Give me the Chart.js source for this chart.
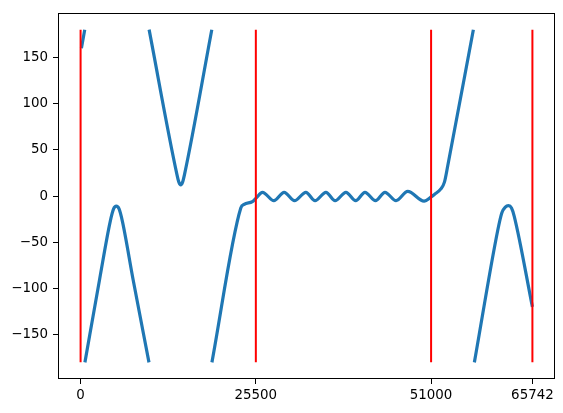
<!DOCTYPE html>
<html>
<head>
<meta charset="utf-8">
<script src="https://cdn.jsdelivr.net/npm/chart.js@4.4.1/dist/chart.umd.min.js"></script>
<style>
  body { margin: 0; background: #fff; }
  canvas { display: block; }
</style>
</head>
<body>
<canvas id="phaseChart" width="563" height="413"></canvas>
<script>
// valores (null = salto de fase ±180)
const phaseX = [
  120, 600, 615,
  630, 2770, 4300, 4800, 5200, 5600, 6100, 7630, 9950, 9960,
  9970, 14000, 14300, 14570, 14840, 15140, 19090, 19100,
  19110, 23310, 23800, 25000, 25500, 26470,
  28120, 29620, 31130, 32780, 34110, 35700, 37030, 38610, 40030, 41380,
  42910, 44290, 45900, 47600, 49980, 51000, 51480, 52450, 52940, 53430, 57150, 57220,
  57300, 60700, 61300, 61800, 62260, 62700, 63100, 65742
];
const phaseY = [
  160, 180, null,
  -180, -90, -28, -14, -11, -14, -28, -90, -180, null,
  180, 24, 15, 12, 15, 24, 180, null,
  -180, -13, -9, -6, -2.5, 4,
  -5, 4, -5, 4, -5, 4, -5, 4, -5, 4,
  -5, 4, -5, 5, -5.5, -1, 1.7, 8, 15, 33, 180, null,
  -180, -37, -18, -12, -10.5, -13, -22, -120
];
const markerX = [0, 25500, 51000, 65742];
const markerSpan = [-180, 180];
const xTicks = [0, 25500, 51000, 65742];
const yTicks = [-150, -100, -50, 0, 50, 100, 150];

const phasePoints = phaseX.map((x, i) => ({ x: x, y: phaseY[i] }));

const markerSets = markerX.map(x => ({
  data: markerSpan.map(y => ({ x: x, y: y })),
  borderColor: '#ff0000',
  borderWidth: 2,
  pointRadius: 0,
  order: 0
}));

// marco completo alrededor del área de dibujo
const frameBox = {
  id: 'frameBox',
  afterDraw(chart) {
    const a = chart.chartArea;
    const c = chart.ctx;
    c.save();
    c.strokeStyle = '#000';
    c.lineWidth = 1;
    c.strokeRect(Math.round(a.left) + 0.5, Math.round(a.top) + 0.5,
      Math.round(a.right - a.left) - 1, Math.round(a.bottom - a.top) - 1);
    c.restore();
  }
};

Chart.defaults.font.family = '"DejaVu Sans", sans-serif';
Chart.defaults.font.size = 13.4;
Chart.defaults.color = '#000';

new Chart(document.getElementById('phaseChart'), {
  type: 'line',
  data: {
    datasets: [
      ...markerSets,
      {
        data: phasePoints,
        borderColor: '#1f77b4',
        borderWidth: 3.2,
        pointRadius: 0,
        spanGaps: false,
        cubicInterpolationMode: 'monotone',
        order: 1
      }
    ]
  },
  options: {
    responsive: false,
    animation: false,
    layout: { padding: { top: 10, right: 8, left: 0, bottom: 0 } },
    plugins: { legend: { display: false }, tooltip: { enabled: false } },
    scales: {
      x: {
        type: 'linear',
        min: -3287,
        max: 69029,
        afterBuildTicks: axis => { axis.ticks = xTicks.map(v => ({ value: v })); },
        afterFit: axis => { axis.height = 34; },
        ticks: { autoSkip: false, maxRotation: 0, padding: 3, callback: v => String(v) },
        grid: { drawOnChartArea: false, tickLength: 5, color: '#000' },
        border: { display: false }
      },
      y: {
        type: 'linear',
        min: -198,
        max: 198,
        afterBuildTicks: axis => { axis.ticks = yTicks.map(v => ({ value: v })); },
        afterFit: axis => { axis.width = 58; },
        ticks: { autoSkip: false, padding: 5, callback: v => String(v).replace('-', '\u2212') },
        grid: { drawOnChartArea: false, tickLength: 5, color: '#000' },
        border: { display: false }
      }
    }
  },
  plugins: [frameBox]
});
</script>
</body>
</html>
